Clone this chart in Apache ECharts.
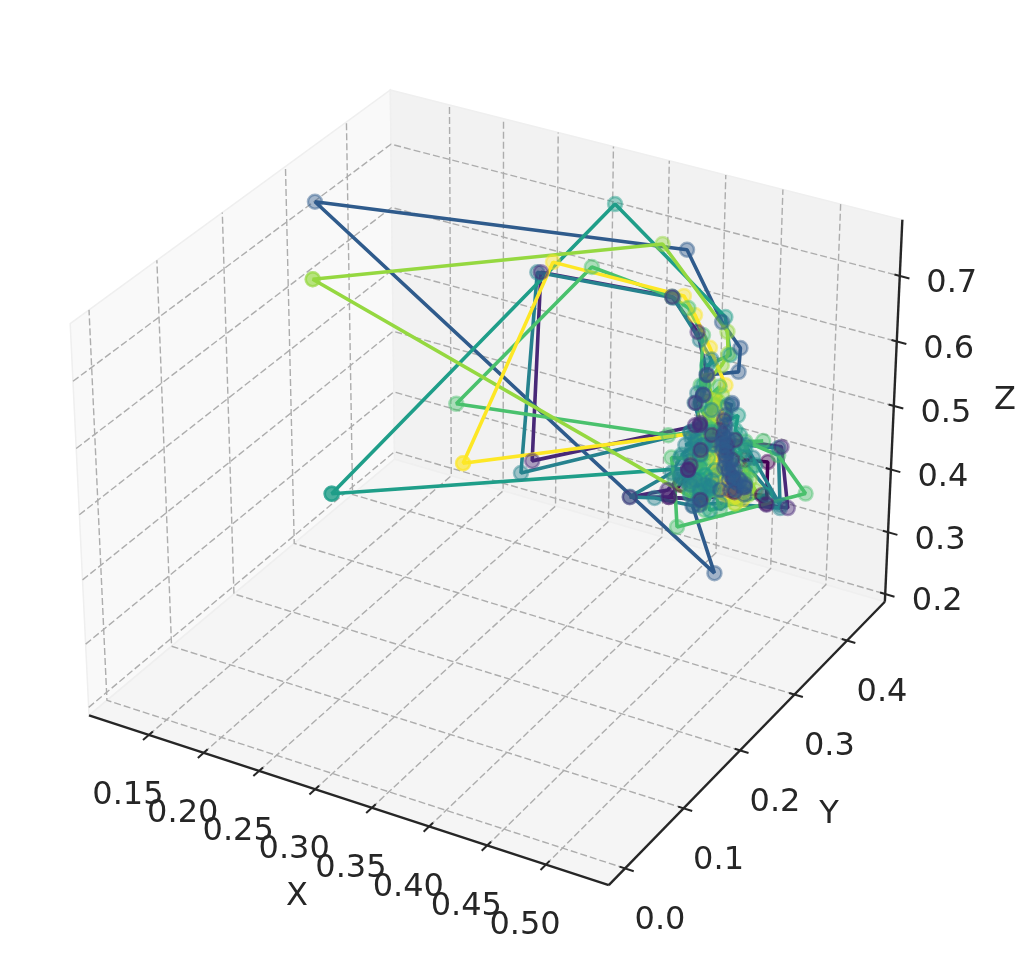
<!DOCTYPE html>
<html><head><meta charset="utf-8"><style>html,body{margin:0;background:#fff}#c{width:1036px;height:964px}</style>
<script src="https://cdn.jsdelivr.net/npm/echarts@6/dist/echarts.min.js"></script></head><body><div id="c"></div>
<script>
const xTicks=[.15,.2,.25,.3,.35,.4,.45,.5];
const yTicks=[0,.1,.2,.3,.4];
const zTicks=[.2,.3,.4,.5,.6,.7];
const s0x=[.515,.503,.509,.501,.492,.504,.519,.542,.546,.546,.527,.512,.519];
const s0y=[.22,.22,.19,.19,.19,.22,.25,.25,.25,.25,.25,.25,.22];
const s0z=[.627,.599,.603,.577,.554,.532,.527,.534,.523,.586,.580,.587,.644];
const s1x=[.499,.503,.494,.498,.481,.449,.482,.495,.508,.504,.509,.548,.555,.537,.518,.508,.499,.493,.297,.304,.448,.475,.498,.495,.503,.493,.503,.500,.498,.502,.507,.501,.506];
const s1y=[.27,.24,.24,.21,.21,.21,.21,.24,.27,.27,.27,.27,.27,.27,.27,.27,.27,.24,.34,.34,.28,.27,.24,.24,.21,.24,.21,.21,.21,.27,.27,.27,.27];
const s1z=[.610,.613,.586,.582,.543,.516,.533,.511,.527,.537,.585,.594,.505,.501,.518,.527,.588,.623,.392,.689,.762,.730,.700,.669,.684,.626,.651,.590,.582,.574,.554,.558,.507];
const s2x=[.496,.491,.490,.489,.492,.491,.496,.501,.509,.502,.485,.493,.499,.104,.436,.486,.502,.501,.488,.486,.496,.491,.491,.489,.494,.489,.493,.496,.492,.500,.498,.503,.505,.495,.501,.509,.509];
const s2y=[.29,.29,.29,.29,.29,.29,.29,.29,.29,.26,.26,.23,.26,.33,.33,.29,.29,.29,.26,.26,.29,.29,.29,.29,.29,.29,.29,.29,.29,.29,.29,.29,.29,.29,.29,.29,.29];
const s2z=[.619,.583,.565,.544,.534,.518,.510,.501,.498,.514,.482,.509,.384,.714,.790,.735,.704,.668,.680,.649,.616,.598,.573,.559,.562,.552,.543,.529,.526,.519,.518,.508,.506,.501,.489,.486,.502];
const s3x=[.507,.498,.504,.508,.500,.502,.504,.496,.489,.454,.475,.508,.516,.553,.550,.522,.529,.553,.509,.511,.504,.292,.306,.449,.496,.506,.509,.507,.498,.505,.506,.498,.500,.498,.508,.505,.499,.503,.496,.509,.505,.503,.509,.507,.499,.512,.506];
const s3y=[.23,.23,.20,.20,.20,.23,.20,.20,.20,.20,.20,.20,.23,.26,.26,.26,.26,.26,.26,.23,.20,.33,.33,.28,.23,.23,.20,.20,.23,.20,.20,.20,.23,.20,.23,.20,.23,.20,.20,.20,.20,.23,.23,.23,.23,.20,.23];
const s3z=[.660,.629,.649,.639,.628,.606,.615,.607,.581,.527,.536,.541,.525,.512,.601,.592,.576,.517,.586,.610,.649,.378,.697,.761,.758,.734,.709,.694,.633,.641,.626,.589,.603,.578,.609,.577,.590,.589,.580,.580,.571,.546,.556,.546,.533,.552,.529];
const s4x=[.489,.480,.481,.480,.103,.103,.103,.329,.484,.489,.484,.481,.478,.489,.489,.489,.478,.480,.484,.493,.487,.486,.487,.495,.504,.513,.499,.495,.497,.490,.488,.487,.484,.489,.522];
const s4y=[.27,.27,.24,.27,.35,.35,.35,.42,.30,.30,.27,.27,.27,.27,.24,.24,.24,.27,.27,.27,.27,.24,.30,.30,.30,.30,.30,.30,.30,.30,.30,.30,.27,.27,.30];
const s4z=[.502,.495,.534,.529,.233,.233,.233,.747,.734,.680,.685,.654,.623,.587,.614,.591,.571,.510,.519,.531,.498,.514,.543,.532,.544,.525,.564,.570,.593,.583,.604,.543,.497,.468,.484];
const s5x=[.489,.479,.482,.485,.565,.541,.513,.528,.500,.499,.476,.222,.344,.448,.462,.489,.488,.492,.504,.493,.497,.490,.495,.490,.489,.496,.501,.489,.498,.494,.495,.502,.507,.514,.518,.505,.510,.504,.494];
const s5y=[.25,.22,.22,.22,.28,.28,.28,.28,.28,.25,.22,.35,.35,.28,.28,.25,.25,.25,.25,.25,.25,.25,.25,.25,.25,.25,.22,.25,.22,.25,.22,.25,.25,.28,.28,.28,.28,.28,.25];
const s5z=[.561,.583,.551,.481,.524,.570,.577,.585,.565,.611,.615,.438,.708,.762,.752,.747,.672,.652,.678,.615,.610,.599,.594,.584,.576,.567,.583,.546,.566,.540,.542,.522,.494,.519,.536,.537,.560,.575,.487];
const s6x=[.511,.521,.519,.511,.515,.511,.518,.517,.514,.518,.518,.517,.514,.524,.535,.541,.536,.532,.524,.522,.510,.112,.112,.415,.514,.515,.510,.513,.518,.507,.510,.521,.509];
const s6y=[.24,.21,.21,.21,.21,.21,.21,.21,.21,.18,.18,.18,.18,.24,.24,.24,.24,.24,.24,.21,.21,.31,.31,.33,.24,.24,.24,.21,.21,.21,.21,.18,.21];
const s6z=[.676,.697,.689,.699,.677,.670,.673,.658,.620,.638,.616,.590,.591,.520,.539,.549,.562,.575,.559,.586,.538,.612,.612,.789,.771,.739,.720,.723,.688,.631,.603,.602,.550];
const s7x=[.489,.492,.490,.489,.474,.212,.212,.284,.458,.482,.481,.481,.486,.479,.491,.487,.489,.488,.490,.485,.486,.483,.492,.498,.492,.488];
const s7y=[.28,.28,.28,.28,.28,.38,.38,.40,.28,.25,.28,.31,.28,.31,.28,.28,.28,.28,.28,.28,.31,.31,.31,.31,.28,.28];
const s7z=[.491,.516,.537,.567,.571,.314,.314,.652,.768,.773,.702,.623,.626,.584,.591,.596,.567,.552,.537,.520,.465,.456,.448,.456,.508,.544];
const lim={x:[.0947,.5528],y:[-.0271,.4742],z:[.1873,.7846]};
const c30=Math.cos(Math.PI/6),W=[c30*.5,-c30*c30,.5],U=[.8660254,.5,0],V=[-.25,.4330127,.8660254],B=[1.1905,1.1905,.8929],D=10;
function proj(x,y,z){const a=((x-lim.x[0])/(lim.x[1]-lim.x[0])-.5)*B[0],b=((y-lim.y[0])/(lim.y[1]-lim.y[0])-.5)*B[1],c=((z-lim.z[0])/(lim.z[1]-lim.z[0])-.5)*B[2];
 const xv=U[0]*a+U[1]*b,yv=V[0]*a+V[1]*b+V[2]*c,d=D-(W[0]*a+W[1]*b+W[2]*c);return [494.3+5001*xv/d,468.4-5000*yv/d];}
const P=[
{c:'#440154',l:0,m:2,x:s0x,y:s0y,z:s0z},
{c:'#482878',l:1,m:6,x:s1x,y:s1y,z:s1z},
{c:'#2f5b8c',l:2,m:7,x:s2x,y:s2y,z:s2z},
{c:'#26828e',l:3,m:5,x:s3x,y:s3y,z:s3z},
{c:'#1f9e89',l:4,m:4,x:s4x,y:s4y,z:s4z},
{c:'#4ac16d',l:5,m:3,x:s5x,y:s5y,z:s5z},
{c:'#95d840',l:6,m:1,x:s6x,y:s6y,z:s6z},
{c:'#fde725',l:7,m:0,x:s7x,y:s7y,z:s7z}];
const rgba=(h,a)=>{const n=parseInt(h.slice(1),16);return `rgba(${n>>16},${(n>>8)&255},${n&255},${a})`};
const [x0,x1]=lim.x,[y0,y1]=lim.y,[z0,z1]=lim.z;
const panes=[{f:'#f9f9f9',p:[[x0,y0,z0],[x0,y1,z0],[x0,y1,z1],[x0,y0,z1]]},{f:'#f2f2f2',p:[[x0,y1,z0],[x1,y1,z0],[x1,y1,z1],[x0,y1,z1]]},{f:'#f5f5f5',p:[[x0,y0,z0],[x1,y0,z0],[x1,y1,z0],[x0,y1,z0]]}];
const grid=[];xTicks.forEach(t=>grid.push([[t,y0,z0],[t,y1,z0],[t,y1,z1]]));yTicks.forEach(t=>grid.push([[x1,t,z0],[x0,t,z0],[x0,t,z1]]));zTicks.forEach(t=>grid.push([[x0,y0,t],[x0,y1,t],[x1,y1,t]]));
const dx=x1-x0,dy=y1-y0;
const axes=[[[x0,y0,z0],[x1,y0,z0]],[[x1,y0,z0],[x1,y1,z0]],[[x1,y1,z0],[x1,y1,z1]]];
xTicks.forEach(t=>axes.push([[t,y0+.012*dy,z0],[t,y0-.018*dy,z0]]));yTicks.forEach(t=>axes.push([[x1-.01*dx,t,z0],[x1+.016*dx,t,z0]]));zTicks.forEach(t=>axes.push([[x1-.01*dx,y1,t],[x1+.018*dx,y1,t]]));
const fmt2=t=>t.toFixed(2),fmt1=t=>t.toFixed(1);
const labels=[];xTicks.forEach(t=>labels.push({p:[t,y0,z0],o:[-21,61],s:fmt2(t)}));yTicks.forEach(t=>labels.push({p:[x1,t,z0],o:[35,52],s:fmt1(t)}));zTicks.forEach(t=>labels.push({p:[x1,y1,t],o:[52,8],s:fmt1(t)}));
const font='32px "DejaVu Sans"';
const pts=s=>s.x.map((v,i)=>proj(v,s.y[i],s.z[i]));
const series=[
 {type:'custom',z:1,silent:true,clip:false,data:panes.map((_,i)=>i),renderItem:(p,api)=>{const q=panes[p.dataIndex];return {type:'polygon',shape:{points:q.p.map(v=>api.coord(proj(...v)))},style:{fill:q.f,stroke:'#efefef',lineWidth:1.5}}}},
 {type:'custom',z:2,silent:true,clip:false,data:grid.map((_,i)=>i),renderItem:(p,api)=>({type:'polyline',shape:{points:grid[p.dataIndex].map(v=>api.coord(proj(...v)))},style:{stroke:'#adadad',lineWidth:1.4,fill:'none',lineDash:[7,3]}})},
 {type:'custom',z:3,silent:true,clip:false,data:axes.map((_,i)=>i),renderItem:(p,api)=>({type:'polyline',shape:{points:axes[p.dataIndex].map(v=>api.coord(proj(...v)))},style:{stroke:'#262626',lineWidth:p.dataIndex<3?2.4:2,fill:'none'}})},
 {type:'custom',z:3,silent:true,clip:false,data:labels.map((_,i)=>i),renderItem:(p,api)=>{const l=labels[p.dataIndex],q=api.coord(proj(...l.p));return {type:'text',style:{x:q[0]+l.o[0],y:q[1]+l.o[1],text:l.s,font,fill:'#262626',align:'center',verticalAlign:'middle'}}}},
 ...P.map(s=>({type:'line',z:4+s.l,silent:true,clip:false,animation:false,symbol:'none',lineStyle:{color:s.c,width:3.6},data:pts(s)})),
 ...P.map(s=>({type:'scatter',z:20+s.m,silent:true,clip:false,animation:false,symbol:'circle',symbolSize:14,itemStyle:{color:rgba(s.c,.42),borderColor:rgba(s.c,.45),borderWidth:2.5,opacity:1},data:pts(s)}))
];
const chart=echarts.init(document.getElementById('c'),null,{renderer:'canvas'});
chart.setOption({animation:false,backgroundColor:'#fff',
 grid:{left:0,right:0,top:0,bottom:0},
 xAxis:{type:'value',min:0,max:1036,show:false},yAxis:{type:'value',min:0,max:964,inverse:true,show:false},
 graphic:[{type:'text',x:297,y:897,style:{text:'X',font,fill:'#262626',align:'center',verticalAlign:'middle'}},{type:'text',x:829,y:815,style:{text:'Y',font,fill:'#262626',align:'center',verticalAlign:'middle'}},{type:'text',x:1005,y:401,style:{text:'Z',font,fill:'#262626',align:'center',verticalAlign:'middle'}}],
 series});
</script></body></html>
